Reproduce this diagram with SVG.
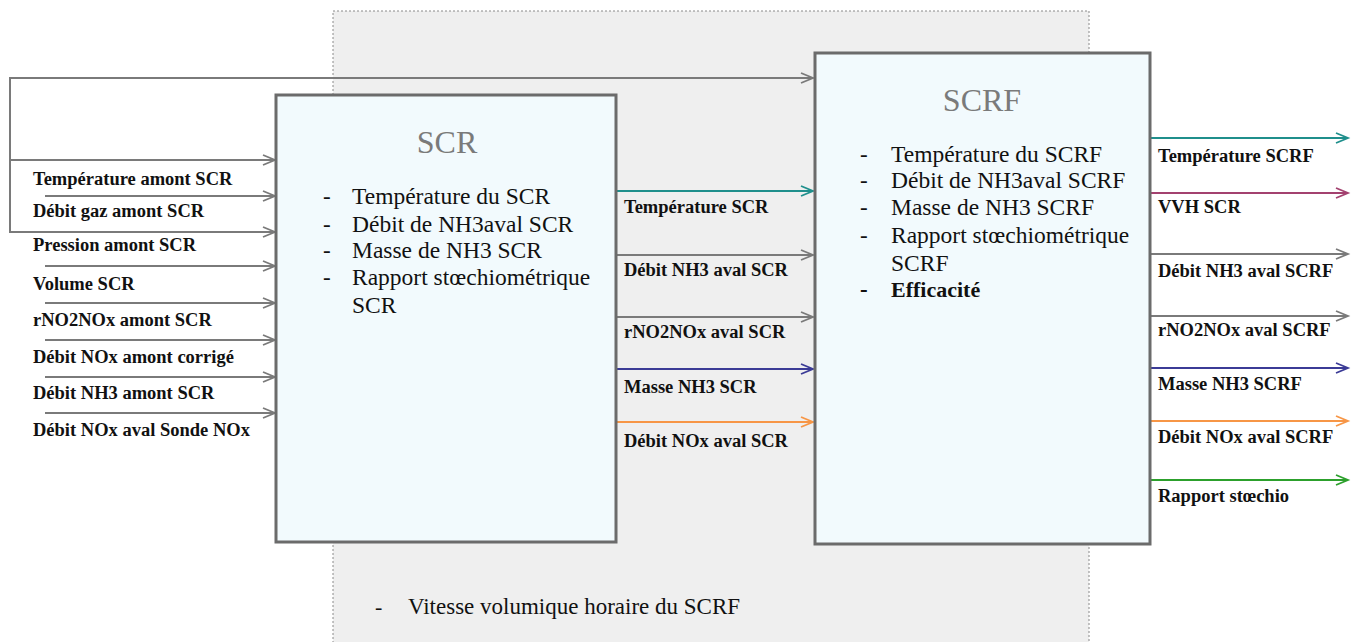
<svg xmlns="http://www.w3.org/2000/svg" width="1360" height="642" viewBox="0 0 1360 642">
<style>
.box{fill:#f2fafd;stroke:#6b6b6b;stroke-width:3}
.c{fill:none;stroke-width:2}
.g{stroke:#7a7a7a}
.t{stroke:#1f8f8c}
.m{stroke:#a3416f}
.n{stroke:#3b3b96}
.o{stroke:#f79646}
.gr{stroke:#2ca02c}
</style>
<defs>
<marker id="ag" markerUnits="userSpaceOnUse" markerWidth="16" markerHeight="14" refX="13" refY="6" orient="auto"><path d="M1,1 L13,6 L1,11" fill="none" stroke="#7a7a7a" stroke-width="1.8"/></marker>
<marker id="at" markerUnits="userSpaceOnUse" markerWidth="16" markerHeight="14" refX="13" refY="6" orient="auto"><path d="M1,1 L13,6 L1,11" fill="none" stroke="#1f8f8c" stroke-width="1.8"/></marker>
<marker id="am" markerUnits="userSpaceOnUse" markerWidth="16" markerHeight="14" refX="13" refY="6" orient="auto"><path d="M1,1 L13,6 L1,11" fill="none" stroke="#a3416f" stroke-width="1.8"/></marker>
<marker id="an" markerUnits="userSpaceOnUse" markerWidth="16" markerHeight="14" refX="13" refY="6" orient="auto"><path d="M1,1 L13,6 L1,11" fill="none" stroke="#3b3b96" stroke-width="1.8"/></marker>
<marker id="ao" markerUnits="userSpaceOnUse" markerWidth="16" markerHeight="14" refX="13" refY="6" orient="auto"><path d="M1,1 L13,6 L1,11" fill="none" stroke="#f79646" stroke-width="1.8"/></marker>
<marker id="agr" markerUnits="userSpaceOnUse" markerWidth="16" markerHeight="14" refX="13" refY="6" orient="auto"><path d="M1,1 L13,6 L1,11" fill="none" stroke="#2ca02c" stroke-width="1.8"/></marker>
</defs>
<rect width="1360" height="642" fill="#ffffff"/>
<g id="zone">
<rect x="333" y="11" width="756" height="650" fill="#efefef" stroke="#8a8a8a" stroke-width="1" stroke-dasharray="2,2"/>
<text font-family="Liberation Serif" font-size="22" fill="#111" x="375" y="614">-</text>
<text font-family="Liberation Serif" font-size="23" fill="#111" x="408" y="614">Vitesse volumique horaire du SCRF</text>
</g>
<g id="connectors">
<path class="c g" d="M10,160 V78 H813" marker-end="url(#ag)"/>
<path class="c g" d="M10,160 V232 H275" marker-end="url(#ag)"/>
<path class="c g" d="M10,160 H275" marker-end="url(#ag)"/>
<path class="c g" d="M45,196 H275" marker-end="url(#ag)"/>
<path class="c g" d="M45,266 H275" marker-end="url(#ag)"/>
<path class="c g" d="M45,303 H275" marker-end="url(#ag)"/>
<path class="c g" d="M45,340 H275" marker-end="url(#ag)"/>
<path class="c g" d="M45,377 H275" marker-end="url(#ag)"/>
<path class="c g" d="M45,413 H275" marker-end="url(#ag)"/>
<path class="c t" d="M617,191 H813" marker-end="url(#at)"/>
<path class="c g" d="M617,255 H813" marker-end="url(#ag)"/>
<path class="c g" d="M617,317 H813" marker-end="url(#ag)"/>
<path class="c n" d="M617,369 H813" marker-end="url(#an)"/>
<path class="c o" d="M617,422 H813" marker-end="url(#ao)"/>
<path class="c t" d="M1151,138 H1348" marker-end="url(#at)"/>
<path class="c m" d="M1151,193 H1348" marker-end="url(#am)"/>
<path class="c g" d="M1151,254 H1348" marker-end="url(#ag)"/>
<path class="c g" d="M1151,316 H1348" marker-end="url(#ag)"/>
<path class="c n" d="M1151,368 H1348" marker-end="url(#an)"/>
<path class="c o" d="M1151,421 H1348" marker-end="url(#ao)"/>
<path class="c gr" d="M1151,480 H1348" marker-end="url(#agr)"/>
</g>
<g id="input-labels" font-family="Liberation Serif" font-size="18.5" font-weight="bold" fill="#111">
<text font-family="Liberation Serif" font-size="18.5" font-weight="bold" x="33" y="185">Température amont SCR</text>
<text font-family="Liberation Serif" font-size="18.5" font-weight="bold" x="33" y="217">Débit gaz amont SCR</text>
<text font-family="Liberation Serif" font-size="18.5" font-weight="bold" x="33" y="251">Pression amont SCR</text>
<text font-family="Liberation Serif" font-size="18.5" font-weight="bold" x="33" y="290">Volume SCR</text>
<text font-family="Liberation Serif" font-size="18.5" font-weight="bold" x="33" y="326">rNO2NOx amont SCR</text>
<text font-family="Liberation Serif" font-size="18.5" font-weight="bold" x="33" y="363">Débit NOx amont corrigé</text>
<text font-family="Liberation Serif" font-size="18.5" font-weight="bold" x="33" y="399">Débit NH3 amont SCR</text>
<text font-family="Liberation Serif" font-size="18.5" font-weight="bold" x="33" y="436">Débit NOx aval Sonde NOx</text>
</g>
<g id="SCR">
<rect class="box" x="276" y="95" width="340" height="447"/>
<text font-family="Liberation Serif" font-size="32" fill="#7a7a7a" text-anchor="middle" x="447" y="153">SCR</text>
<text font-family="Liberation Serif" font-size="23" fill="#111" x="323" y="204">-</text>
<text font-family="Liberation Serif" font-size="23.5" fill="#111" x="352" y="204">Température du SCR</text>
<text font-family="Liberation Serif" font-size="23" fill="#111" x="323" y="232">-</text>
<text font-family="Liberation Serif" font-size="23.5" fill="#111" x="352" y="232">Débit de NH3aval SCR</text>
<text font-family="Liberation Serif" font-size="23" fill="#111" x="323" y="258">-</text>
<text font-family="Liberation Serif" font-size="23.5" fill="#111" x="352" y="258">Masse de NH3 SCR</text>
<text font-family="Liberation Serif" font-size="23" fill="#111" x="323" y="285">-</text>
<text font-family="Liberation Serif" font-size="23.5" fill="#111" x="352" y="285">Rapport stœchiométrique</text>
<text font-family="Liberation Serif" font-size="23.5" fill="#111" x="352" y="313">SCR</text>
</g>
<g id="scr-output-labels" fill="#111">
<text font-family="Liberation Serif" font-size="18.5" font-weight="bold" x="624" y="213">Température SCR</text>
<text font-family="Liberation Serif" font-size="18.5" font-weight="bold" x="624" y="276">Débit NH3 aval SCR</text>
<text font-family="Liberation Serif" font-size="18.5" font-weight="bold" x="624" y="338">rNO2NOx aval SCR</text>
<text font-family="Liberation Serif" font-size="18.5" font-weight="bold" x="624" y="393">Masse NH3 SCR</text>
<text font-family="Liberation Serif" font-size="18.5" font-weight="bold" x="624" y="447">Débit NOx aval SCR</text>
</g>
<g id="SCRF">
<rect class="box" x="815" y="53" width="335" height="491"/>
<text font-family="Liberation Serif" font-size="32" fill="#7a7a7a" text-anchor="middle" x="982" y="111">SCRF</text>
<text font-family="Liberation Serif" font-size="23" fill="#111" x="860" y="162">-</text>
<text font-family="Liberation Serif" font-size="23.5" fill="#111" x="891" y="162">Température du SCRF</text>
<text font-family="Liberation Serif" font-size="23" fill="#111" x="860" y="188">-</text>
<text font-family="Liberation Serif" font-size="23.5" fill="#111" x="891" y="188">Débit de NH3aval SCRF</text>
<text font-family="Liberation Serif" font-size="23" fill="#111" x="860" y="215">-</text>
<text font-family="Liberation Serif" font-size="23.5" fill="#111" x="891" y="215">Masse de NH3 SCRF</text>
<text font-family="Liberation Serif" font-size="23" fill="#111" x="860" y="243">-</text>
<text font-family="Liberation Serif" font-size="23.5" fill="#111" x="891" y="243">Rapport stœchiométrique</text>
<text font-family="Liberation Serif" font-size="23.5" fill="#111" x="891" y="271">SCRF</text>
<text font-family="Liberation Serif" font-size="23" font-weight="bold" fill="#111" x="860" y="297">-</text>
<text font-family="Liberation Serif" font-size="22" font-weight="bold" fill="#111" x="891" y="297">Efficacité</text>
</g>
<g id="scrf-output-labels" fill="#111">
<text font-family="Liberation Serif" font-size="18.5" font-weight="bold" x="1158" y="162">Température SCRF</text>
<text font-family="Liberation Serif" font-size="18.5" font-weight="bold" x="1158" y="213">VVH SCR</text>
<text font-family="Liberation Serif" font-size="18.5" font-weight="bold" x="1158" y="277">Débit NH3 aval SCRF</text>
<text font-family="Liberation Serif" font-size="18.5" font-weight="bold" x="1158" y="336">rNO2NOx aval SCRF</text>
<text font-family="Liberation Serif" font-size="18.5" font-weight="bold" x="1158" y="390">Masse NH3 SCRF</text>
<text font-family="Liberation Serif" font-size="18.5" font-weight="bold" x="1158" y="443">Débit NOx aval SCRF</text>
<text font-family="Liberation Serif" font-size="18.5" font-weight="bold" x="1158" y="502">Rapport stœchio</text>
</g>
</svg>
